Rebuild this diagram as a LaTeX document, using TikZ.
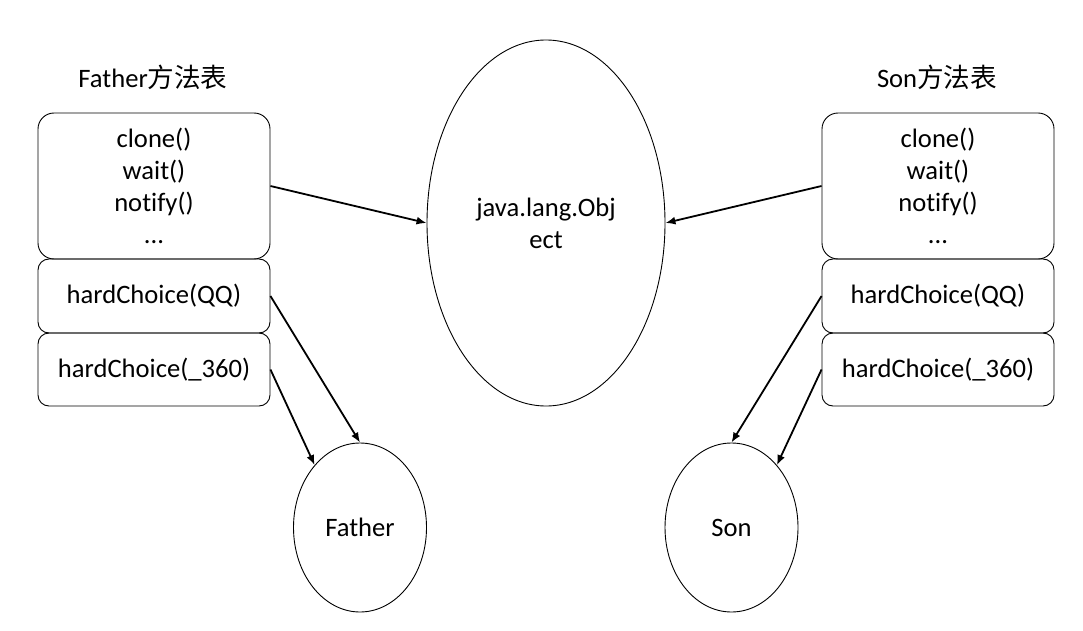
\documentclass[tikz,border=0pt]{standalone}
\usepackage{fontspec}
\setmainfont[Ligatures=NoCommon]{Carlito}
\newfontfamily\cjk{Noto Sans CJK SC}
\usetikzlibrary{shapes.geometric,arrows.meta}
\begin{document}
\begin{tikzpicture}[x=1pt, y=-1pt, font=\fontsize{26.6}{32}\selectfont,
  tablebox/.style={draw, line width=0.9pt, minimum width=232pt, inner sep=0pt, align=center},
  oval/.style={draw, ellipse, line width=0.9pt, inner sep=0pt, align=center},
  link/.style={-{Latex[length=10pt,width=8pt]}, line width=1.8pt}]
\useasboundingbox (0,0) rectangle (1083,631);
\node (ftitle) at (153,77) {Father{\cjk 方法表}};
\node (stitle) at (937,77) {Son{\cjk 方法表}};
\node[tablebox, rounded corners=16pt, minimum height=146pt] (fobj) at (154,186) {clone()\\wait()\\notify()\\...};
\node[tablebox, rounded corners=11pt, minimum height=74pt] (fqq) at (154,296) {hardChoice(QQ)};
\node[tablebox, rounded corners=11pt, minimum height=73pt] (fsafe) at (154,369.5) {hardChoice(\_360)};
\node[tablebox, rounded corners=16pt, minimum height=146pt] (sobj) at (938,186) {clone()\\wait()\\notify()\\...};
\node[tablebox, rounded corners=11pt, minimum height=74pt] (sqq) at (938,296) {hardChoice(QQ)};
\node[tablebox, rounded corners=11pt, minimum height=73pt] (ssafe) at (938,369.5) {hardChoice(\_360)};
\node[oval, minimum width=238pt, minimum height=366pt] (object) at (546,223) {java.lang.Obj\\ect};
\node[oval, minimum width=133pt, minimum height=169pt] (father) at (360,527.5) {Father};
\node[oval, minimum width=133pt, minimum height=169pt] (son) at (731.5,527.5) {Son};
\draw[link] (fobj.east) to (object.west);
\draw[link] (sobj.west) to (object.east);
\draw[link] (fqq.east) to (father.north);
\draw[link] (fsafe.east) to (father.126);
\draw[link] (sqq.west) to (son.north);
\draw[link] (ssafe.west) to (son.54);
\end{tikzpicture}
\end{document}
